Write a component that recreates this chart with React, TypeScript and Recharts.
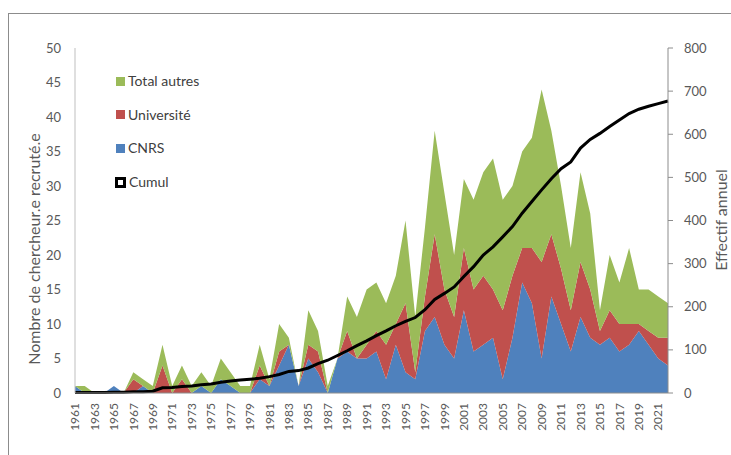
import React from 'react';
import { ComposedChart, Area, Line, XAxis, YAxis, Legend } from 'recharts';

const years = [
  1961, 1962, 1963, 1964, 1965, 1966, 1967, 1968, 1969, 1970,
  1971, 1972, 1973, 1974, 1975, 1976, 1977, 1978, 1979, 1980,
  1981, 1982, 1983, 1984, 1985, 1986, 1987, 1988, 1989, 1990,
  1991, 1992, 1993, 1994, 1995, 1996, 1997, 1998, 1999, 2000,
  2001, 2002, 2003, 2004, 2005, 2006, 2007, 2008, 2009, 2010,
  2011, 2012, 2013, 2014, 2015, 2016, 2017, 2018, 2019, 2020,
  2021, 2022,
];

const cnrs = [
  1, 0, 0, 0, 1, 0, 0, 1, 0, 0,
  0, 0, 0, 1, 0, 2, 1, 0, 0, 2,
  1, 4, 7, 1, 5, 3, 0, 5, 6, 5,
  5, 6, 2, 7, 3, 2, 9, 11, 7, 5,
  12, 6, 7, 8, 2, 8, 16, 13, 5, 14,
  10, 6, 11, 8, 7, 8, 6, 7, 9, 7,
  5, 4,
];

const universite = [
  0, 0, 0, 0, 0, 0, 2, 0, 0, 4,
  0, 2, 0, 0, 0, 0, 0, 0, 0, 2,
  0, 2, 0, 0, 2, 3, 0, 0, 3, 0,
  2, 3, 5, 3, 10, 1, 5, 12, 8, 6,
  9, 9, 10, 7, 10, 9, 5, 8, 14, 9,
  8, 6, 8, 7, 2, 4, 4, 3, 1, 2,
  3, 4,
];

const totalAutres = [
  0, 1, 0, 0, 0, 0, 1, 1, 1, 3,
  1, 2, 1, 2, 1, 3, 2, 1, 1, 3,
  1, 4, 1, 0, 5, 3, 1, 0, 5, 6,
  8, 7, 6, 7, 12, 8, 10, 15, 14, 9,
  10, 13, 15, 19, 16, 13, 14, 16, 25, 15,
  12, 9, 13, 11, 3, 8, 6, 11, 5, 6,
  6, 5,
];

const cumul = [
  1, 1, 1, 1, 2, 2, 3, 3, 4, 12,
  13, 15, 16, 19, 21, 25, 28, 30, 32, 34,
  38, 43, 50, 52, 58, 68, 76, 87, 98, 110,
  121, 133, 144, 156, 166, 175, 193, 217, 231, 246,
  270, 293, 320, 339, 362, 386, 417, 444, 471, 497,
  520, 536, 568, 588, 602, 618, 633, 648, 658, 665,
  671, 677,
];

const xTicks = [
  1961, 1963, 1965, 1967, 1969, 1971, 1973, 1975, 1977, 1979,
  1981, 1983, 1985, 1987, 1989, 1991, 1993, 1995, 1997, 1999,
  2001, 2003, 2005, 2007, 2009, 2011, 2013, 2015, 2017, 2019, 2021,
];
const leftTicks = [0, 5, 10, 15, 20, 25, 30, 35, 40, 45, 50];
const rightTicks = [0, 100, 200, 300, 400, 500, 600, 700, 800];

const leftTitle = 'Nombre de chercheur.e recruté.e';
const rightTitle = 'Effectif annuel';

const BLUE = '#4f81bd';
const RED = '#c0504d';
const GREEN = '#9bbb59';
const FONT = 'Lato, "Liberation Sans", sans-serif';
const TEXT = '#595959';
const AXIS = '#8c8c8c';

const data = years.map((year, i) => ({
  year,
  cnrs: cnrs[i],
  universite: universite[i],
  autres: totalAutres[i],
  cumul: cumul[i],
}));

const legendItems = [
  { label: 'Total autres', color: GREEN, outline: false },
  { label: 'Université', color: RED, outline: false },
  { label: 'CNRS', color: BLUE, outline: false },
  { label: 'Cumul', color: '#000', outline: true },
];

const XTick = (props: any) => {
  const { x, payload } = props;
  const y = 403;
  return (
    <text
      x={x}
      y={y}
      dy="0.35em"
      textAnchor="end"
      transform={`rotate(-90 ${x} ${y})`}
      fontSize={12}
      fontFamily={FONT}
      fill={TEXT}
    >
      {payload.value}
    </text>
  );
};

const LeftTick = (props: any) => {
  const { y, payload } = props;
  return (
    <text x={61} y={y} dy="0.35em" textAnchor="end" fontSize={13} fontFamily={FONT} fill={TEXT}>
      {payload.value}
    </text>
  );
};

const RightTick = (props: any) => {
  const { y, payload } = props;
  return (
    <text x={684} y={y} dy="0.35em" textAnchor="start" fontSize={13} fontFamily={FONT} fill={TEXT}>
      {payload.value}
    </text>
  );
};

const renderLegend = () => (
  <div style={{ position: 'relative', width: 150, height: 130, fontFamily: FONT, fontSize: 14, color: '#404040' }}>
    {legendItems.map((it, i) => (
      <div
        key={it.label}
        style={{ position: 'absolute', left: 0, top: i * 33.7, height: 16, display: 'flex', alignItems: 'center', whiteSpace: 'nowrap' }}
      >
        {it.outline ? (
          <span style={{ display: 'inline-block', width: 5, height: 5, border: '3px solid #000', background: '#fff', marginLeft: -1 }} />
        ) : (
          <span style={{ display: 'inline-block', width: 9, height: 9, background: it.color }} />
        )}
        <span style={{ marginLeft: 3, lineHeight: '16px' }}>{it.label}</span>
      </div>
    ))}
  </div>
);

export default function App() {
  return (
    <div style={{ position: 'absolute', left: 0, top: 0, width: 731, height: 455, overflow: 'hidden', background: '#fff' }}>
      <div
        style={{ position: 'absolute', left: 8, top: 13, width: 800, height: 500, border: '1px solid #8c8c8c', boxSizing: 'border-box' }}
      />
      <div style={{ position: 'absolute', left: 0, top: 0 }}>
        <ComposedChart width={731} height={455} data={data} margin={{ top: 48, right: 0, bottom: 0, left: 0 }}>
          <XAxis
            dataKey="year"
            type="number"
            domain={[1961, 2022]}
            ticks={xTicks}
            interval={0}
            height={62}
            tickLine={false}
            axisLine={{ stroke: AXIS }}
            tick={<XTick />}
            allowDecimals={false}
          />
          <YAxis
            yAxisId="left"
            orientation="left"
            width={75}
            domain={[0, 50]}
            ticks={leftTicks}
            interval={0}
            tickLine={false}
            axisLine={{ stroke: '#bfbfbf' }}
            tick={<LeftTick />}
            label={{
              content: () => (
                <text
                  x={40}
                  y={249}
                  textAnchor="middle"
                  transform="rotate(-90 40 249)"
                  fontSize={16}
                  fontFamily={FONT}
                  fill={TEXT}
                >
                  {leftTitle}
                </text>
              ),
            }}
          />
          <YAxis
            yAxisId="right"
            orientation="right"
            width={63}
            domain={[0, 800]}
            ticks={rightTicks}
            interval={0}
            tickSize={5}
            tickLine={{ stroke: AXIS }}
            axisLine={{ stroke: AXIS }}
            tick={<RightTick />}
            label={{
              content: () => (
                <text
                  x={727}
                  y={220}
                  textAnchor="middle"
                  transform="rotate(-90 727 220)"
                  fontSize={16}
                  fontFamily={FONT}
                  fill={TEXT}
                >
                  {rightTitle}
                </text>
              ),
            }}
          />
          <Legend
            layout="vertical"
            align="center"
            verticalAlign="middle"
            content={renderLegend}
            wrapperStyle={{ left: 116, top: 73, width: 150, height: 130 }}
          />
          <Area
            yAxisId="left"
            type="linear"
            dataKey="cnrs"
            name="CNRS"
            stackId="1"
            stroke="none"
            fill={BLUE}
            fillOpacity={1}
            isAnimationActive={false}
          />
          <Area
            yAxisId="left"
            type="linear"
            dataKey="universite"
            name="Université"
            stackId="1"
            stroke="none"
            fill={RED}
            fillOpacity={1}
            isAnimationActive={false}
          />
          <Area
            yAxisId="left"
            type="linear"
            dataKey="autres"
            name="Total autres"
            stackId="1"
            stroke="none"
            fill={GREEN}
            fillOpacity={1}
            isAnimationActive={false}
          />
          <Line
            yAxisId="right"
            type="linear"
            dataKey="cumul"
            name="Cumul"
            stroke="#000"
            strokeWidth={3}
            dot={false}
            activeDot={false}
            isAnimationActive={false}
          />
        </ComposedChart>
      </div>
    </div>
  );
}
